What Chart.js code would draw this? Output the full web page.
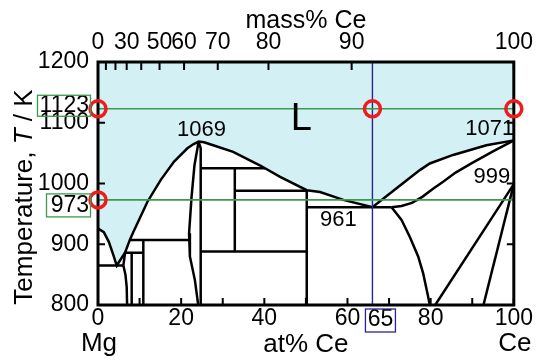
<!DOCTYPE html>
<html>
<head>
<meta charset="utf-8">
<script src="https://cdn.jsdelivr.net/npm/chart.js@4.4.1/dist/chart.umd.min.js"></script>
<style>body{margin:0;background:#fff}</style>
</head>
<body>
<canvas id="diagramaMgCe" width="539" height="363"></canvas>
<script>
const liquidus = [[0,926],[1.4,920],[2.6,904],[3.7,882],[4.5,865],[6.5,886],[7.7,908],[8.5,920],[11.9,970],[15.1,1006],[18.3,1036],[21.5,1058],[23,1065],[24.2,1069],[25.5,1068],[27.7,1063],[32.5,1052],[38.9,1030],[43.8,1011],[50.2,989],[53.4,986],[59,973],[66,961],[71.8,992],[77.4,1022],[79.8,1033],[85.4,1047],[93.4,1063],[100,1071]];
const eutMg = [[0,865],[6.1,865]];
const ligacaoMg = [[6.1,865],[6.5,886]];
const solvusMg12 = [[6.1,865],[6.6,850],[6.9,830],[7.0,800]];
const peritetico886 = [[6.5,886],[10.9,886]];
const mg12ce = [[8.1,886],[8.1,800]];
const peritetico907 = [[7.7,907],[21.9,907]];
const mg41ce5 = [[10.9,907],[10.9,800]];
const mg3ceEsq = [[24.2,1069],[23.2,1030],[22.5,978],[21.9,918],[22.1,880],[23.3,841],[24.1,800]];
const mg3ceDir = [[24.2,1069],[24.7,1058],[24.7,800]];
const peritetico1025 = [[24.7,1025],[40.2,1025]];
const mg2ce = [[32.9,1025],[32.9,888]];
const peritetico988 = [[32.9,988],[50.2,988]];
const linha888 = [[24.7,888],[50.2,888]];
const mgce = [[50.2,989],[50.2,800]];
const eutetico961 = [[50.2,961],[70.6,961]];
const solidusCe = [[70.6,961],[73,963],[75.5,968],[78,978],[80.5,991],[83,1003],[86,1018],[90,1034],[95,1053],[100,1071]];
const solvusCe = [[70.6,961],[73,940],[75,912],[77,880],[78.2,852],[79.2,820],[79.8,800]];
const ce999a = [[100,999],[81.1,800]];
const ce999b = [[100,999],[92.7,800]];

// linhas de referência
const isoterma1123 = [[0,1123],[100,1123]];
const isoterma973 = [[0,973],[100,973]];
const composicao65 = [[66,800],[66,1200]];
const circulos = [[0,1123],[66,1123],[100,1123],[0,973]];

// eixos
const ticksT = [800, 900, 1000, 1100, 1200];
const ticksAt = [0, 10, 20, 30, 40, 50, 60, 70, 80, 90, 100];
const rotulosMassa = ['0', '', '', '30', '', '50', '60', '70', '80', '90', '100'];
const posicaoMassaAt = [0, 1.9, 4.2, 6.9, 10.4, 14.8, 20.7, 28.8, 41.0, 61.0, 100];

const fonte = '"Liberation Sans", Arial, sans-serif';
const verde = '#3c9a4c';
const azul = '#26269a';

function linha(pontos, cor, largura, ordem) {
  return {
    data: pontos.map(p => ({ x: p[0], y: p[1] })),
    showLine: true,
    borderColor: cor,
    borderWidth: largura,
    pointRadius: 0,
    fill: false,
    tension: 0,
    order: ordem,
  };
}

function texto(ctx, s, x, y, tamanho, alinh) {
  ctx.font = tamanho + 'px ' + fonte;
  ctx.textAlign = alinh || 'center';
  ctx.textBaseline = 'middle';
  ctx.fillStyle = '#000';
  ctx.fillText(s, x, y);
}

const decoracao = {
  id: 'decoracao',
  beforeDatasetDraw(chart, args) {
    if (args.index !== 0) return;
    const { ctx, chartArea: a, scales } = chart;
    ctx.save();
    ctx.strokeStyle = '#000';
    ctx.lineWidth = 2;
    ctx.beginPath();
    ticksAt.forEach(v => {
      const p = scales.x.getPixelForValue(v);
      ctx.moveTo(p, a.bottom); ctx.lineTo(p, a.bottom - 7);
    });
    posicaoMassaAt.forEach(v => {
      const p = scales.x.getPixelForValue(v);
      ctx.moveTo(p, a.top); ctx.lineTo(p, a.top + 8);
    });
    ticksT.forEach(v => {
      const p = scales.y.getPixelForValue(v);
      ctx.moveTo(a.left, p); ctx.lineTo(a.left + 7, p);
      ctx.moveTo(a.right, p); ctx.lineTo(a.right - 7, p);
    });
    ctx.stroke();
    ctx.lineWidth = 3;
    ctx.strokeRect(a.left, a.top, a.right - a.left, a.bottom - a.top);
    ctx.restore();
  },
  afterDraw(chart) {
    const { ctx, chartArea: a, scales } = chart;
    const sx = scales.x, sy = scales.y;
    ctx.save();
    texto(ctx, '1069', sx.getPixelForValue(24.9), sy.getPixelForValue(1088), 22);
    texto(ctx, '1071', sx.getPixelForValue(94.2), sy.getPixelForValue(1090), 22);
    texto(ctx, '999', sx.getPixelForValue(94.7), sy.getPixelForValue(1010), 22);
    texto(ctx, '961', sx.getPixelForValue(57.8), sy.getPixelForValue(940), 22);
    texto(ctx, 'L', sx.getPixelForValue(48.9), sy.getPixelForValue(1106), 38);

    // rótulos em caixa
    const y1123 = sy.getPixelForValue(1123);
    const y973 = sy.getPixelForValue(973);
    texto(ctx, '1123', a.left - 9, y1123 - 3, 23, 'right');
    texto(ctx, '973', a.left - 9, y973 + 6, 23, 'right');
    ctx.strokeStyle = verde;
    ctx.lineWidth = 1.3;
    ctx.strokeRect(a.left - 60.5, y1123 - 13.5, 53, 21);
    ctx.strokeRect(a.left - 51.5, y973 - 6, 44, 23);
    const x65 = sx.getPixelForValue(66);
    texto(ctx, '65', x65 + 8, a.bottom + 15, 23);
    ctx.strokeStyle = azul;
    ctx.strokeRect(x65 - 7, a.bottom + 4, 30, 23);

    texto(ctx, 'Mg', sx.getPixelForValue(0) + 1, 344, 26);
    texto(ctx, 'Ce', sx.getPixelForValue(100) + 1, 344, 26);

    // título do eixo y com T em itálico
    const partes = [['Temperature, ', ''], ['T', 'italic '], [' / K', '']];
    let largura = 0;
    partes.forEach(p => { ctx.font = p[1] + '26px ' + fonte; largura += ctx.measureText(p[0]).width; });
    ctx.translate(25, 197);
    ctx.rotate(-Math.PI / 2);
    ctx.textAlign = 'left';
    ctx.textBaseline = 'middle';
    ctx.fillStyle = '#000';
    let x = -largura / 2;
    partes.forEach(p => {
      ctx.font = p[1] + '26px ' + fonte;
      ctx.fillText(p[0], x, 0);
      x += ctx.measureText(p[0]).width;
    });
    ctx.restore();
  }
};

function desenharDiagrama() {
  const ctx = document.getElementById('diagramaMgCe').getContext('2d');
  const preto = '#000';
  const liq = linha(liquidus, preto, 2.5, 10);
  liq.fill = 'end';
  liq.backgroundColor = '#d3f0f4';

  const marcas = {
    data: circulos.map(p => ({ x: p[0], y: p[1] })),
    showLine: false,
    pointRadius: 8,
    pointBorderWidth: 3.5,
    pointBorderColor: '#ee1c1c',
    pointBackgroundColor: 'rgba(0,0,0,0)',
    clip: false,
    order: 0,
  };

  const fronteiras = [eutMg, ligacaoMg, solvusMg12, peritetico886, mg12ce, peritetico907, mg41ce5,
    mg3ceEsq, mg3ceDir, peritetico1025, mg2ce, peritetico988, linha888, mgce, eutetico961,
    solidusCe, solvusCe, ce999a, ce999b].map(l => linha(l, preto, 2.5, 5));

  new Chart(ctx, {
    type: 'scatter',
    data: {
      datasets: [
        marcas,
        linha(isoterma1123, verde, 1.6, 2),
        linha(isoterma973, verde, 1.6, 2),
        linha(composicao65, azul, 1.4, 2),
      ].concat(fronteiras, [liq]),
    },
    options: {
      responsive: false,
      animation: false,
      devicePixelRatio: 1,
      layout: { padding: { left: 0, right: 24, top: 0, bottom: 0 } },
      plugins: { legend: { display: false }, tooltip: { enabled: false } },
      scales: {
        x: {
          type: 'linear', position: 'bottom', min: 0, max: 100,
          grid: { display: false, drawTicks: false }, border: { display: false },
          afterFit: s => { s.height = 58; },
          afterBuildTicks: s => { s.ticks = ticksAt.map(v => ({ value: v })); },
          ticks: {
            autoSkip: false, maxRotation: 0, padding: 0, color: '#000',
            font: { family: fonte, size: 23 },
            callback: v => (v % 20 === 0 ? String(v) : ''),
          },
          title: { display: true, text: 'at% Ce', color: '#000', font: { family: fonte, size: 26 }, padding: { top: 0, bottom: 3 } },
        },
        xTopo: {
          type: 'linear', position: 'top', min: 0, max: 100,
          grid: { display: false, drawTicks: false }, border: { display: false },
          afterFit: s => { s.height = 62; },
          afterBuildTicks: s => { s.ticks = posicaoMassaAt.map(v => ({ value: v })); },
          ticks: {
            autoSkip: false, maxRotation: 0, padding: 6, color: '#000',
            font: { family: fonte, size: 23 },
            callback: (v, i) => rotulosMassa[i],
          },
          title: { display: true, text: 'mass% Ce', color: '#000', font: { family: fonte, size: 25 }, padding: { top: 6, bottom: 0 } },
        },
        y: {
          type: 'linear', min: 800, max: 1200,
          grid: { display: false, drawTicks: false }, border: { display: false },
          afterFit: s => { s.width = 98; },
          afterBuildTicks: s => { s.ticks = ticksT.map(v => ({ value: v })); },
          ticks: {
            autoSkip: false, padding: 9, color: '#000',
            font: { family: fonte, size: 23 },
            callback: v => String(v),
          },
        },
      },
    },
    plugins: [decoracao],
  });
}

window.onload = desenharDiagrama;
</script>
</body>
</html>
